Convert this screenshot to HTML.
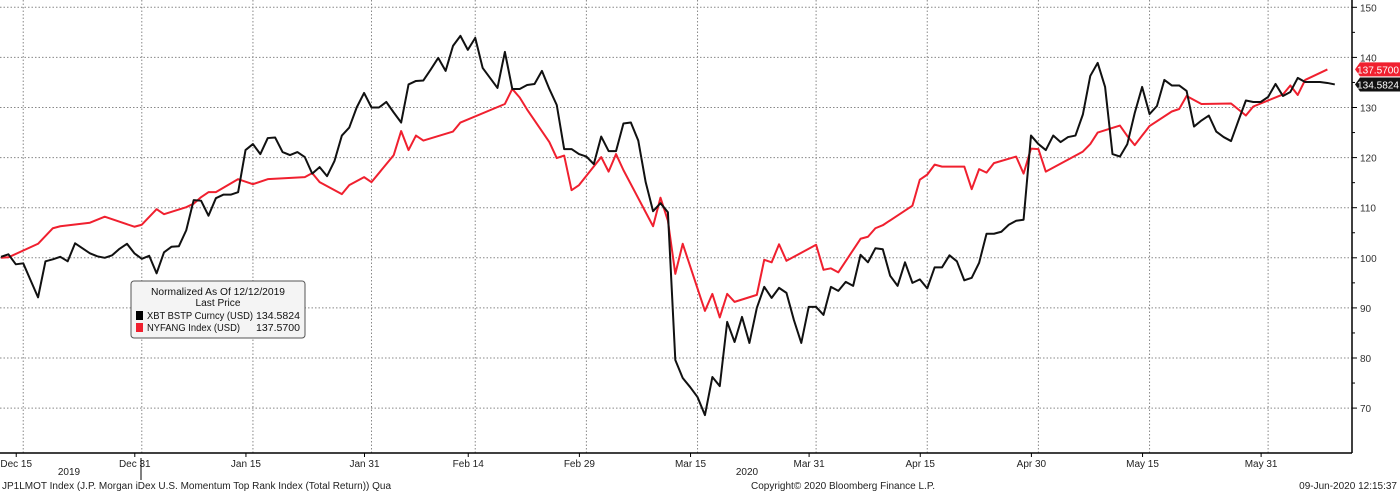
<!DOCTYPE html>
<html><head><meta charset="utf-8"><style>
html,body{margin:0;padding:0;background:#fff;}
svg{display:block;font-family:"Liberation Sans",sans-serif;}
</style></head><body>
<svg id="chart" width="1400" height="492" viewBox="0 0 1400 492" xmlns="http://www.w3.org/2000/svg">
<g id="grid"></g>
<g id="series"></g>
<g id="axes"></g>
<g>
<rect x="131" y="281" width="174" height="57" rx="3" fill="#f4f4f4" stroke="#555" stroke-width="1"/>
<text x="218" y="295" font-size="10" text-anchor="middle" fill="#111" textLength="134" lengthAdjust="spacingAndGlyphs">Normalized As Of 12/12/2019</text>
<text x="218" y="306" font-size="10" text-anchor="middle" fill="#111" textLength="45" lengthAdjust="spacingAndGlyphs">Last Price</text>
<rect x="136" y="311" width="7" height="9" fill="#000"/>
<text x="147" y="319" font-size="10" fill="#111" textLength="106" lengthAdjust="spacingAndGlyphs">XBT BSTP Curncy (USD)</text>
<text x="300" y="319" font-size="10" text-anchor="end" fill="#111" textLength="44" lengthAdjust="spacingAndGlyphs">134.5824</text>
<rect x="136" y="323" width="7" height="9" fill="#f0202f"/>
<text x="147" y="331" font-size="10" fill="#111" textLength="93" lengthAdjust="spacingAndGlyphs">NYFANG Index (USD)</text>
<text x="300" y="331" font-size="10" text-anchor="end" fill="#111" textLength="44" lengthAdjust="spacingAndGlyphs">137.5700</text>
</g>
<text x="2" y="489" font-size="10" fill="#222">JP1LMOT Index (J.P. Morgan iDex U.S. Momentum Top Rank Index (Total Return)) Qua</text>
<text x="843" y="489" font-size="10" text-anchor="middle" fill="#222">Copyright© 2020 Bloomberg Finance L.P.</text>
<text x="1397" y="489" font-size="10" text-anchor="end" fill="#222">09-Jun-2020 12:15:37</text>
</svg>
<script>
// Black series (XBT) one value per calendar day from 12/12/2019
const xbtValues = [100.2,100.7,98.7,98.9,95.5,92.1,99.3,99.7,100.2,99.3,102.9,101.9,100.9,100.3,100.0,100.5,101.8,102.8,100.9,99.8,100.4,96.9,101.1,102.2,102.3,105.5,111.5,111.4,108.4,111.9,112.6,112.6,113.1,121.5,122.7,120.7,123.9,124.0,121.1,120.5,121.1,120.1,116.8,118.1,116.3,119.3,124.4,126.0,130.0,132.9,130.0,130.0,131.1,129.0,127.0,134.6,135.3,135.4,137.6,139.9,137.3,142.3,144.3,141.5,
143.9,137.9,135.9,133.9,141.1,133.7,133.7,134.5,134.7,137.3,133.7,130.5,121.7,121.7,120.7,120.2,118.7,124.2,121.3,121.3,126.8,127.0,123.4,115.1,109.3,110.9,109.1,79.6,76.0,74.2,72.2,68.6,76.2,74.4,87.2,83.2,88.2,83.0,90.0,94.2,92.0,94.0,93.0,87.6,83.0,90.2,90.2,88.6,94.2,93.4,95.2,94.4,100.6,99.1,101.9,101.7,96.4,94.4,99.1,95.0,95.7,
93.9,98.1,98.1,100.5,99.3,95.5,96.0,99.0,104.8,104.8,105.2,106.6,107.4,107.6,124.4,122.7,121.5,124.4,123.1,124.1,124.4,128.6,136.3,138.9,134.1,120.7,120.2,122.7,128.9,134.1,128.7,130.3,135.5,134.4,134.4,133.3,126.2,127.4,128.4,125.2,124.1,123.3,127.4,131.4,131.1,131.1,132.1,134.7,132.3,133.1,135.9,135.1,135.1,135.1,134.9,134.6];
// Red series (NYFANG) trading days (calendar-day offset) and values
const fangDays = [0,1,5,7,8,12,14,18,19,21,22,25,26,27,28,29,32,34,36,41,42,43,46,47,49,50,53,54,55,56,57,61,62,68,69,70,71,74,75,76,77,78,81,82,83,84,88,89,90,91,92,95,96,97,98,99,102,103,104,105,106,110,111,112,113,116,117,118,119,123,124,125,126,127,130,131,132,133,134,137,138,139,140,141,146,147,148,151,152,153,155,158,159,160,162,166,168,169,173,174,175,176,179];
const fangValues = [100.0,100.1,102.8,105.9,106.3,107.0,108.2,106.2,106.6,109.7,108.7,110.1,110.8,112.1,113.1,113.1,115.7,114.7,115.7,116.1,116.9,115.1,112.7,114.5,116.1,115.1,120.5,125.3,121.5,124.4,123.4,125.2,127.0,130.7,133.7,132.0,129.6,123.1,119.9,120.4,113.5,114.5,120.1,117.2,120.7,117.5,106.3,112.0,107.4,96.8,102.8,89.4,92.8,88.1,92.8,91.2,92.6,99.6,99.1,102.7,99.4,102.6,97.6,97.9,97.1,103.8,104.2,105.9,106.5,110.4,115.6,116.6,118.6,118.2,118.2,113.7,117.7,117.0,118.9,120.2,116.8,121.8,121.7,117.2,121.2,122.7,125.0,126.4,124.3,122.5,126.3,129.2,129.7,132.3,130.7,130.8,128.4,130.2,132.6,134.4,132.5,135.5,137.6];
const yTicks = [70,80,90,100,110,120,130,140,150];
const xLabels = ["Dec 15","Dec 31","Jan 15","Jan 31","Feb 14","Feb 29","Mar 15","Mar 31","Apr 15","Apr 30","May 15","May 31"];
const xLabelDays = [3,19,34,50,64,79,94,110,125,140,155,171];
const lastXbt = "134.5824", lastFang = "137.5700";

const NS="http://www.w3.org/2000/svg";
const xS = d => 1 + d*7.41;
const yS = v => 7.3 + (150 - v)*5.01;
const PR = 1352, PB = 453;
function mk(tag, attrs, parent){const e=document.createElementNS(NS,tag);for(const k in attrs)e.setAttribute(k,attrs[k]);parent.appendChild(e);return e;}
const grid=document.getElementById('grid'), series=document.getElementById('series'), axes=document.getElementById('axes');

yTicks.forEach(v=>{
  const g=mk('line',{x1:0,x2:PR,y1:yS(v),y2:yS(v),stroke:'#888','stroke-width':1,'stroke-dasharray':'1.5,2'},grid);
  
  
  const t=mk('line',{x1:PR,x2:PR+5,y1:yS(v),y2:yS(v),stroke:'#000'},axes);
  
  
  const l=mk('text',{x:PR+8,y:yS(v)+4,'font-size':10,fill:'#333'},axes);
  l.textContent=v;
  
  
});
for(let v=75;v<150;v+=10){mk('line',{x1:PR,x2:PR+3,y1:yS(v),y2:yS(v),stroke:'#000'},axes);}
const gridDays=[3,19,34,50,64,79,94,110,125,140,155,171];
gridDays.forEach(d=>{
  const g=mk('line',{x1:xS(d),x2:xS(d),y1:0,y2:PB,stroke:'#888','stroke-width':1,'stroke-dasharray':'1.5,2'},grid);
  
  
});
xLabels.forEach((s,i)=>{
  const x=xS(xLabelDays[i])-7;
  mk('line',{x1:x,x2:x,y1:PB,y2:PB+4,stroke:'#000'},axes);
  const t=mk('text',{x:x,y:467,'font-size':10,'text-anchor':'middle',fill:'#222'},axes);
  t.textContent=s;
  
  
});
mk('line',{x1:0,x2:PR,y1:PB,y2:PB,stroke:'#000','stroke-width':1.5},axes);
mk('line',{x1:PR,x2:PR,y1:0,y2:PB,stroke:'#000','stroke-width':1.5},axes);
mk('line',{x1:141,x2:141,y1:458,y2:480,stroke:'#000'},axes);
const y19=mk('text',{x:69,y:475,'font-size':10,'text-anchor':'middle',fill:'#222'},axes);y19.textContent='2019';


const y20=mk('text',{x:747,y:475,'font-size':10,'text-anchor':'middle',fill:'#222'},axes);y20.textContent='2020';



const fp=mk('polyline',{points:fangDays.map((d,i)=>xS(d)+','+yS(fangValues[i])).join(' '),fill:'none',stroke:'#f0202f','stroke-width':2,'stroke-linejoin':'round'},series);


const bp=mk('polyline',{points:xbtValues.map((v,i)=>xS(i)+','+yS(v)).join(' '),fill:'none',stroke:'#111','stroke-width':2,'stroke-linejoin':'round'},series);



function tag(val,txt,color,name){
  const y=yS(val);
  const g=mk('g',{},axes);
  
  
  mk('polygon',{points:`${PR+3},${y} ${PR+8},${y-7} 1400,${y-7} 1400,${y+7} ${PR+8},${y+7}`,fill:color},g);
  const t=mk('text',{x:1357,y:y+4,'font-size':10,fill:'#fff',textLength:42,lengthAdjust:'spacingAndGlyphs'},g);
  t.textContent=txt;
}
tag(fangValues[fangValues.length-1],lastFang,'#f0202f','last-value-tag-nyfang');
tag(xbtValues[xbtValues.length-1],lastXbt,'#111','last-value-tag-xbt');
</script>
</body></html>
